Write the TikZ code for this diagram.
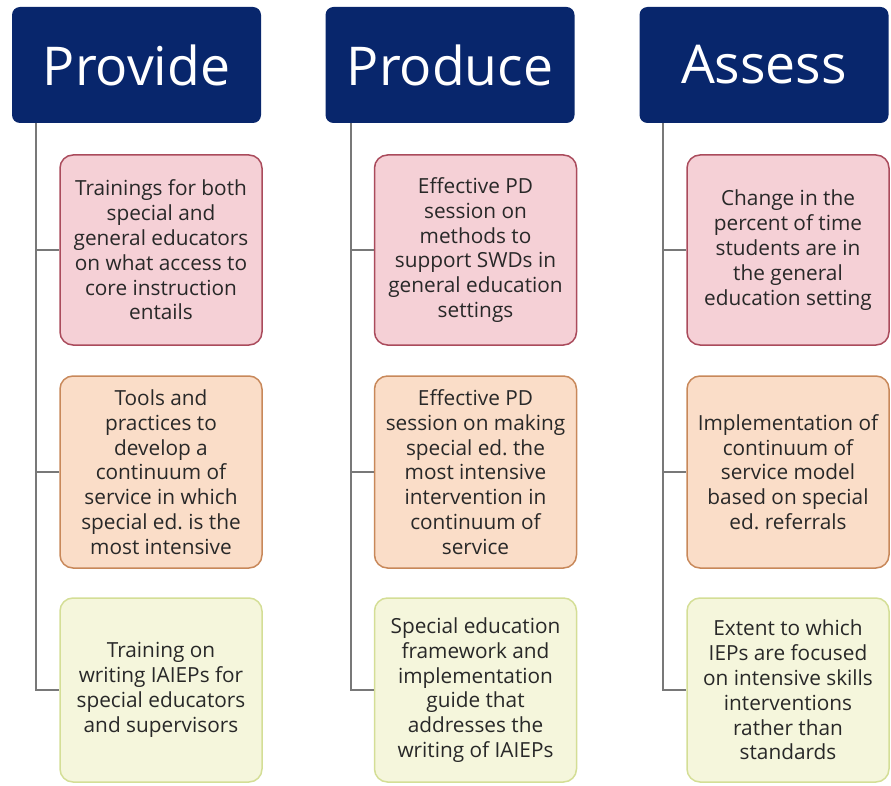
\documentclass[tikz,border=0pt]{standalone}
\usepackage{fontspec}
\setmainfont{Open Sans}
\frenchspacing
\begin{document}
\begin{tikzpicture}[x=1pt,y=-1pt,
  hdr/.style={fill=navy, rounded corners=8pt, minimum width=249pt, minimum height=116pt, inner sep=0pt, text=white, font=\fontsize{53.5}{60}\selectfont},
  item/.style={rounded corners=13pt, line width=1.5pt, minimum width=202pt, inner sep=0pt, align=center, text=txt, font=\fontsize{20.8}{24.8}\selectfont},
  pinkbox/.style={item, draw=pinkd, fill=pinkf, minimum height=190pt},
  orgbox/.style={item, draw=orgd, fill=orgf, minimum height=192pt},
  ylwbox/.style={item, draw=ylwd, fill=ylwf, minimum height=184pt},
  conn/.style={draw=connc, line width=2pt}]
\definecolor{navy}{RGB}{8,38,108}
\definecolor{pinkf}{RGB}{245,208,214}
\definecolor{pinkd}{RGB}{170,75,92}
\definecolor{orgf}{RGB}{250,221,200}
\definecolor{orgd}{RGB}{200,136,90}
\definecolor{ylwf}{RGB}{245,246,220}
\definecolor{ylwd}{RGB}{212,222,150}
\definecolor{connc}{RGB}{120,120,120}
\definecolor{txt}{RGB}{40,40,40}
\useasboundingbox (0,0) rectangle (891,786);
% headers
\node[hdr] (h1) at (136.5,65) {Provide};
\node[hdr] (h2) at (450,65) {Produce};
\node[hdr] (h3) at (764,65) {Assess};
% column 1
\node[pinkbox] (p1) at (161,250) {Trainings for both\\special and\\general educators\\on what access to\\core instruction\\entails};
\node[orgbox] (o1) at (161,472) {Tools and\\practices to\\develop a\\continuum of\\service in which\\special ed. is the\\most intensive};
\node[ylwbox] (y1) at (161,690) {Training on\\writing IAIEPs for\\special educators\\and supervisors};
% column 2
\node[pinkbox] (p2) at (475.5,250) {Effective PD\\session on\\methods to\\support SWDs in\\general education\\settings};
\node[orgbox] (o2) at (475.5,472) {Effective PD\\session on making\\special ed. the\\most intensive\\intervention in\\continuum of\\service};
\node[ylwbox] (y2) at (475.5,690) {Special education\\framework and\\implementation\\guide that\\addresses the\\writing of IAIEPs};
% column 3
\node[pinkbox] (p3) at (788,250) {Change in the\\percent of time\\students are in\\the general\\education setting};
\node[orgbox] (o3) at (788,472) {Implementation of\\continuum of\\service model\\based on special\\ed. referrals};
\node[ylwbox] (y3) at (788,690) {Extent to which\\IEPs are focused\\on intensive skills\\interventions\\rather than\\standards};
% connectors
\coordinate (t1) at (36,123);
\coordinate (t2) at (351,123);
\coordinate (t3) at (663,123);
\draw[conn] (t1) |- (y1.west);
\draw[conn] (t1 |- p1.west) -- (p1.west);
\draw[conn] (t1 |- o1.west) -- (o1.west);
\draw[conn] (t2) |- (y2.west);
\draw[conn] (t2 |- p2.west) -- (p2.west);
\draw[conn] (t2 |- o2.west) -- (o2.west);
\draw[conn] (t3) |- (y3.west);
\draw[conn] (t3 |- p3.west) -- (p3.west);
\draw[conn] (t3 |- o3.west) -- (o3.west);
\end{tikzpicture}
\end{document}
